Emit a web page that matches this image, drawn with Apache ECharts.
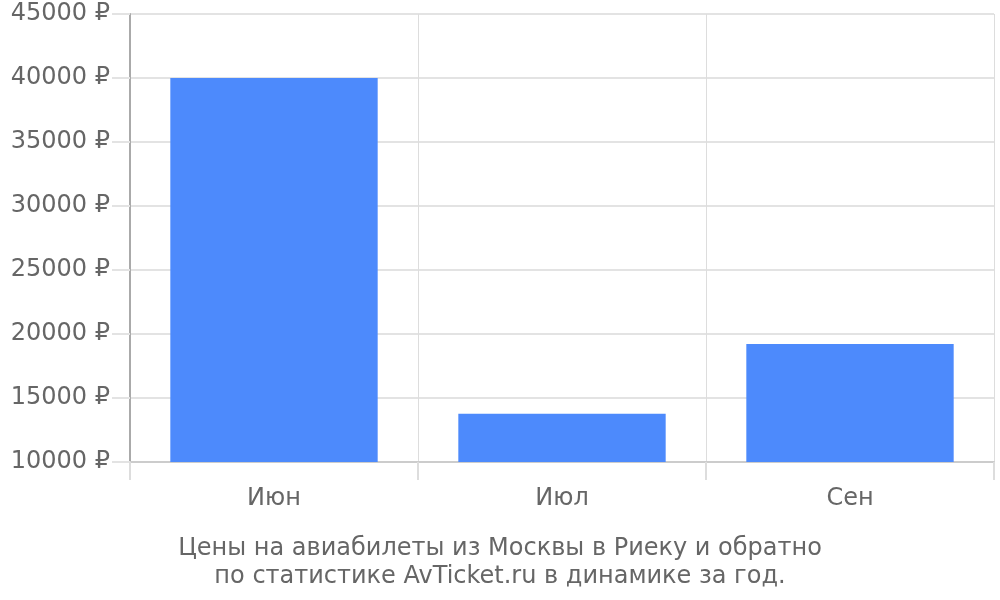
<!DOCTYPE html>
<html>
<head>
<meta charset="utf-8">
<script src="https://cdn.jsdelivr.net/npm/echarts@6/dist/echarts.min.js"></script>
<style>html,body{margin:0;padding:0;background:#fff}#c{width:1000px;height:600px}</style>
</head>
<body>
<div id="c"></div>
<script>
var categories = ['Июн', 'Июл', 'Сен'];
var prices = [40000, 13770, 19220];
var titleLines = ['Цены на авиабилеты из Москвы в Риеку и обратно', 'по статистике AvTicket.ru в динамике за год.'];

var chart = echarts.init(document.getElementById('c'));
var font = 'DejaVu Sans';
chart.setOption({
  animation: false,
  textStyle: { fontFamily: font },
  title: {
    text: titleLines.join('\n'),
    left: 'center',
    top: 535,
    padding: 0,
    textStyle: { fontFamily: font, fontSize: 24, fontWeight: 'normal', color: '#666', lineHeight: 28 }
  },
  grid: { left: 130, right: 6, top: 14, bottom: 138 },
  xAxis: {
    type: 'category',
    data: categories,
    boundaryGap: true,
    axisLine: { show: true, lineStyle: { color: '#cccccc', width: 2 } },
    axisTick: { show: true, length: 18, interval: 0, lineStyle: { color: '#dddddd', width: 2 } },
    splitLine: { show: true, interval: 0, lineStyle: { color: '#dddddd', width: 1 } },
    axisLabel: { margin: 25, fontSize: 24, color: '#666', fontFamily: font }
  },
  yAxis: {
    type: 'value',
    min: 10000,
    max: 45000,
    interval: 5000,
    axisLine: { show: true, lineStyle: { color: '#aaaaaa', width: 2 } },
    axisTick: { show: true, length: 18, lineStyle: { color: '#e3e3e3', width: 2 } },
    splitLine: { show: true, lineStyle: { color: '#e3e3e3', width: 2 } },
    axisLabel: { margin: 20, fontSize: 24, color: '#666', fontFamily: font,
      formatter: function (v) { return v + ' ₽'; } }
  },
  series: [{
    type: 'bar',
    data: prices,
    barWidth: '72%',
    itemStyle: { color: '#4d8afc' }
  }]
});
</script>
</body>
</html>
